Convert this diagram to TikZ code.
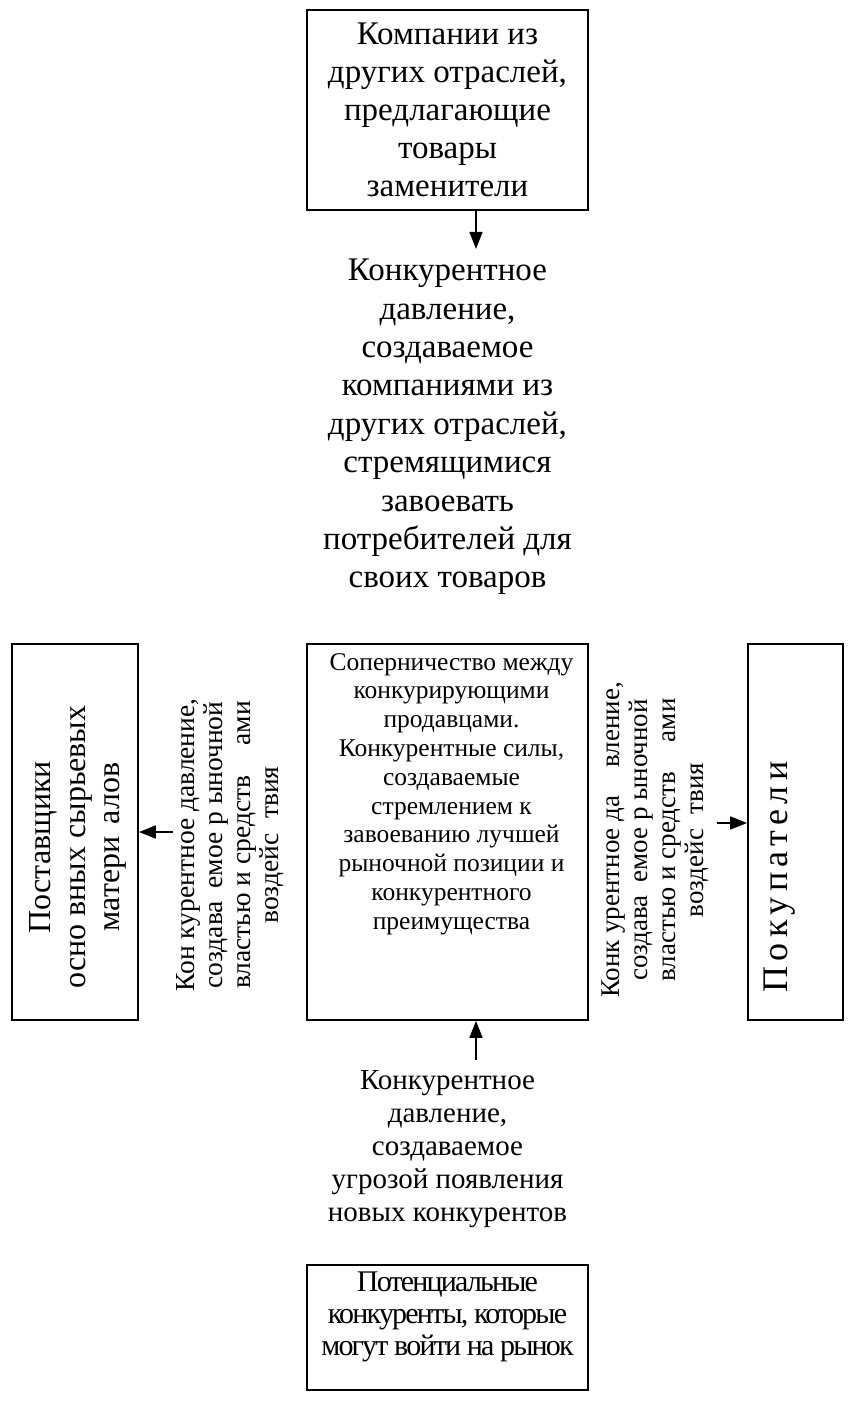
\documentclass[tikz,border=0pt]{standalone}
\usepackage{fontspec}
\setmainfont{Liberation Serif}
\newfontfamily\spacedfont[LetterSpace=15]{Liberation Serif}
\newfontfamily\tightfont[LetterSpace=-6]{Liberation Serif}
\usetikzlibrary{positioning}
\usetikzlibrary{arrows.meta}
\tikzstyle{box}=[draw=black, line width=1.8pt, inner sep=0pt, align=center]
\tikzstyle{txt}=[align=center, inner sep=0pt]
\tikzstyle{edge}=[draw, line width=1.6pt, -{Triangle[width=13pt,length=17pt]}]

\begin{document}
\begin{tikzpicture}[x=1pt, y=-1pt]
  \useasboundingbox (0,0) rectangle (857,1406);

  \def\yc{832};
  \def\h{376};
  \coordinate (axis) at (476,0);

  % top and bottom boxes
  \node[box, minimum width=281, minimum height=200, font=\fontsize{33}{38}\selectfont] (subst) at (447.5,110)
        {Компании из\\других отраслей,\\предлагающие\\товары\\заменители};
  \node[box, minimum width=281, minimum height=125] (newc) at (447.5,1327.5) {};
  \node[txt, font=\tightfont\fontsize{30}{32}\selectfont, below=8pt of newc.north] (newctxt)
        {Потенциальные\\конкуренты, которые\\могут войти на рынок};

  % the three tall boxes
  \foreach \x/\w/\name in {75/126/supp, 447.5/281/rival, 795.5/95/buyers}
          \node[box, minimum width=\w, minimum height=\h] (\name) at (\x, \yc) {};

  \node[txt, font=\fontsize{25.5}{28.8}\selectfont, below=10pt of rival.north, xshift=4pt] (rivaltxt)
        {Соперничество между\\конкурирующими\\продавцами.\\Конкурентные силы,\\создаваемые\\стремлением к\\завоеванию лучшей\\рыночной позиции и\\конкурентного\\преимущества};

  \node[txt, rotate=90, font=\fontsize{32}{34.5}\selectfont] (supptxt) at (78,847)
        {Поставщики\\осно вных сырьевых\\матери\hspace{12pt}алов};
  \node[txt, rotate=90, font=\spacedfont\fontsize{36}{40}\selectfont] (buytxt) at (780,877) {Покупатели};

  % pressure texts
  \node[txt, font=\fontsize{33}{38.4}\selectfont] (press) at (447.5,427)
        {Конкурентное\\давление,\\создаваемое\\компаниями из\\других отраслей,\\стремящимися\\завоевать\\потребителей для\\своих товаров};
  \node[txt, font=\fontsize{29}{33}\selectfont] (entry) at (447.5,1149)
        {Конкурентное\\давление,\\создаваемое\\угрозой появления\\новых конкурентов};
  \node[txt, rotate=90, font=\fontsize{27.5}{28}\selectfont] (pressL) at (230,845)
        {Кон курентное давление,\\создава\hspace{6pt} емое р ыночной\\властью и средств\hspace{30pt}ами\\воздейс\hspace{8pt} твия};
  \node[txt, rotate=90, font=\fontsize{27}{28}\selectfont] (pressR) at (655,840)
        {Конк урентное да\hspace{28pt}вление,\\создава\hspace{6pt} емое р ыночной\\властью и средств\hspace{30pt}ами\\воздейс\hspace{8pt} твия};

  % arrows
  \draw[edge, shorten >=10pt] (axis |- subst.south) -- (axis |- press.north);
  \draw[edge, shorten <=10pt] (axis |- entry.north) -- (axis |- rival.south);
  \draw[edge] ([xshift=-3pt]pressL.north |- supp.east) -- (supp.east);
  \draw[edge] ([xshift=8pt, yshift=9pt]pressR.south |- buyers.west) -- ([yshift=9pt]buyers.west);
\end{tikzpicture}
\end{document}
